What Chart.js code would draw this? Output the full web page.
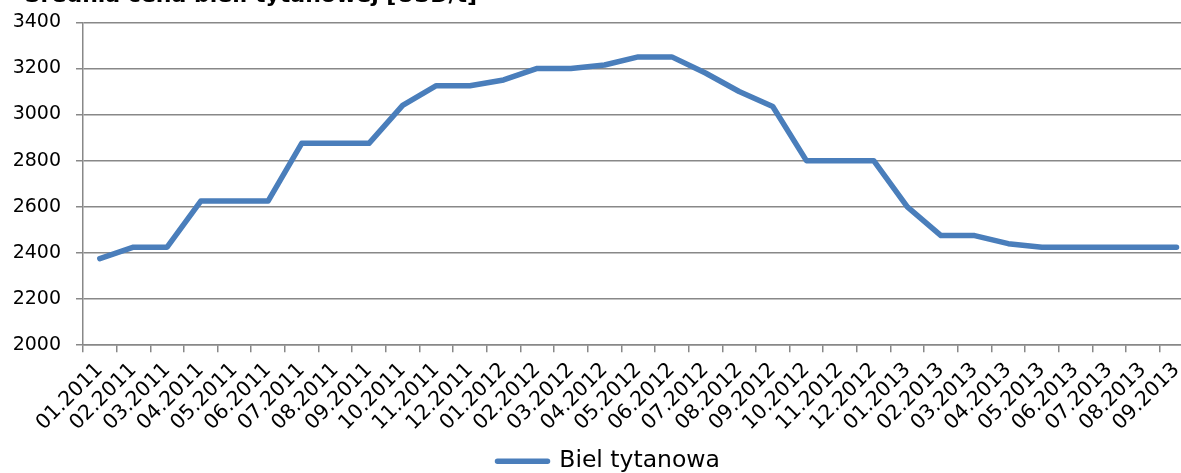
<!DOCTYPE html>
<html>
<head>
<meta charset="utf-8">
<script src="https://cdn.jsdelivr.net/npm/chart.js@4.4.1/dist/chart.umd.min.js"></script>
<style>
  html, body { margin: 0; padding: 0; background: #fff; overflow: hidden; }
  #wrap { width: 1200px; height: 473px; }
</style>
</head>
<body>
<div id="wrap"><canvas id="myChart" width="1200" height="473"></canvas></div>
<script>
// Miesiące (oś X)
const months = [
    '01.2011', '02.2011', '03.2011', '04.2011', '05.2011', '06.2011',
    '07.2011', '08.2011', '09.2011', '10.2011', '11.2011', '12.2011',
    '01.2012', '02.2012', '03.2012', '04.2012', '05.2012', '06.2012',
    '07.2012', '08.2012', '09.2012', '10.2012', '11.2012', '12.2012',
    '01.2013', '02.2013', '03.2013', '04.2013', '05.2013', '06.2013',
    '07.2013', '08.2013', '09.2013'
];

// Cena bieli tytanowej [USD/t]
const bielTytanowa = [
    2375, 2425, 2425, 2625, 2625, 2625,
    2875, 2875, 2875, 3040, 3125, 3125,
    3150, 3200, 3200, 3215, 3250, 3250,
    3180, 3100, 3035, 2800, 2800, 2800,
    2600, 2475, 2475, 2440, 2425, 2425,
    2425, 2425, 2425
];

const seriesName = 'Biel tytanowa';
const chartTitle = 'Średnia cena bieli tytanowej [USD/t]';
const yMin = 2000;
const yMax = 3400;
const yStep = 200;

const gridColor = '#888888';
const lineColor = '#4a7ebb';

// Tytuł wykresu (ucięty u góry jak w oryginale)
const titlePlugin = {
    id: 'cutTitle',
    afterLayout(chart) {
        // legenda przesunięta w prawo jak w oryginale
        chart.legend.left += 12;
        chart.legend.right += 12;
    },
    afterDraw(chart) {
        const ctx = chart.ctx;
        ctx.save();
        ctx.font = 'bold 22px "DejaVu Sans"';
        ctx.fillStyle = '#000';
        ctx.textAlign = 'right';
        ctx.textBaseline = 'alphabetic';
        ctx.fillText(chartTitle, 477, 1.5);
        ctx.restore();
    }
};

function createChart() {
    const ctx = document.getElementById('myChart').getContext('2d');
    new Chart(ctx, {
        type: 'line',
        data: {
            labels: months,
            datasets: [{
                label: seriesName,
                data: bielTytanowa,
                borderColor: lineColor,
                backgroundColor: lineColor,
                borderWidth: 5.5,
                borderJoinStyle: 'round',
                borderCapStyle: 'round',
                pointRadius: 0,
                pointHoverRadius: 0,
                tension: 0,
                fill: false
            }]
        },
        options: {
            responsive: false,
            animation: false,
            layout: { padding: { top: 22.3, left: 0, right: 6.5, bottom: -10 } },
            plugins: {
                tooltip: { enabled: false },
                legend: {
                    position: 'bottom',
                    labels: {
                        color: '#000',
                        font: { family: 'DejaVu Sans', size: 23.5 },
                        boxWidth: 50,
                        boxHeight: 0,
                        padding: 4,
                        generateLabels: function () {
                            return [{
                                text: seriesName,
                                fillStyle: lineColor,
                                strokeStyle: lineColor,
                                lineWidth: 5.5,
                                lineJoin: 'round',
                                lineCap: 'round',
                                datasetIndex: 0
                            }];
                        }
                    }
                }
            },
            scales: {
                x: {
                    type: 'category',
                    offset: true,
                    afterFit: function (scale) { scale.height += 4; },
                    grid: {
                        offset: true,
                        drawOnChartArea: false,
                        drawTicks: true,
                        tickLength: 7,
                        color: gridColor,
                        lineWidth: 1.5
                    },
                    border: { display: true, color: gridColor, width: 1.5 },
                    ticks: {
                        color: '#000',
                        font: { family: 'DejaVu Sans', size: 20.5 },
                        minRotation: 45,
                        maxRotation: 45,
                        autoSkip: false,
                        padding: 6
                    }
                },
                y: {
                    min: yMin,
                    max: yMax,
                    afterFit: function (scale) {
                        scale.width = 83;
                        scale.paddingTop = 0;
                        scale.paddingBottom = 0;
                    },
                    grid: {
                        color: gridColor,
                        lineWidth: 1.5,
                        drawTicks: true,
                        tickLength: 7
                    },
                    border: { display: true, color: gridColor, width: 1.5 },
                    ticks: {
                        stepSize: yStep,
                        color: '#000',
                        font: { family: 'DejaVu Sans', size: 19 },
                        padding: 15,
                        callback: function (value) { return String(value); }
                    }
                }
            }
        },
        plugins: [titlePlugin]
    });
}

document.addEventListener('DOMContentLoaded', createChart);
</script>
</body>
</html>
